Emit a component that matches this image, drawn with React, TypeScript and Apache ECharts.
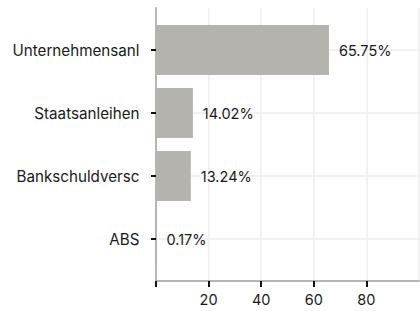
import React, { useEffect, useRef } from "react";
import * as echarts from "echarts";

const categories = ["Unternehmensanl", "Staatsanleihen", "Bankschuldversc", "ABS"];
const values = [65.75, 14.02, 13.24, 0.17];
const categoryPositions = [1, 2, 3, 4];
const xTickValues = [0, 20, 40, 60, 80];
const xLabelValues = [20, 40, 60, 80];

const FONT = "Inter, 'Noto Sans', sans-serif";
const TEXT = "#1a1a1a";
const GRIDLINE = "#ececec";
const AXISLINE = "#b5b5b5";

export default function App() {
  const ref = useRef<HTMLDivElement>(null);
  useEffect(() => {
    if (!ref.current) return;
    const chart = echarts.init(ref.current, null, { renderer: "svg" });
    chart.setOption({
      animation: false,
      backgroundColor: "#ffffff",
      grid: [
        { left: 156, right: 1, top: 8, bottom: 30, outerBoundsMode: "none" },
        { left: 156, right: 1, top: 18.5, bottom: 40.5, outerBoundsMode: "none" },
      ],
      xAxis: [
        {
          gridIndex: 0,
          type: "value",
          min: 0,
          max: 100,
          interval: 20,
          axisLine: { show: false },
          axisTick: { show: false },
          axisLabel: { show: false },
          splitLine: { show: true, lineStyle: { color: GRIDLINE, width: 1.5 } },
        },
        {
          gridIndex: 0,
          type: "value",
          position: "bottom",
          min: 0,
          max: 100,
          interval: 20,
          axisLine: { show: true, onZero: false, lineStyle: { color: AXISLINE, width: 2 } },
          axisTick: { show: true, length: 6, customValues: xTickValues, lineStyle: { color: "#111", width: 2 } },
          axisLabel: {
            show: true,
            customValues: xLabelValues,
            margin: 11,
            color: TEXT,
            fontSize: 14.5,
            fontFamily: FONT,
          },
          splitLine: { show: false },
        },
        {
          gridIndex: 1,
          type: "value",
          min: 0,
          max: 100,
          show: false,
          splitLine: { show: false },
        },
      ],
      yAxis: [
        {
          gridIndex: 0,
          type: "value",
          inverse: true,
          min: 1 / 3,
          max: 14 / 3,
          axisLine: { show: true, onZero: false, lineStyle: { color: AXISLINE, width: 2 } },
          axisTick: { show: true, length: 5, customValues: categoryPositions, lineStyle: { color: "#111", width: 2 } },
          axisLabel: {
            show: true,
            customValues: categoryPositions,
            formatter: (v: number) => categories[Math.round(v) - 1] ?? "",
            margin: 16.5,
            color: TEXT,
            fontSize: 15.2,
            fontFamily: FONT,
          },
          splitLine: { show: true, lineStyle: { color: GRIDLINE, width: 1.5 } },
        },
        {
          gridIndex: 1,
          type: "category",
          inverse: true,
          data: categories,
          show: false,
        },
      ],
      series: [
        {
          type: "bar",
          xAxisIndex: 2,
          yAxisIndex: 1,
          data: values,
          barWidth: 50,
          itemStyle: { color: "#b4b3ae" },
          label: {
            show: true,
            position: "right",
            distance: 10,
            formatter: (p: any) => p.value.toFixed(2) + "%",
            color: TEXT,
            fontSize: 14.5,
            fontFamily: FONT,
          },
        },
      ],
    });
    return () => chart.dispose();
  }, []);
  return (
    <div
      ref={ref}
      style={{ position: "absolute", left: 0, top: 0, width: 420, height: 311 }}
    />
  );
}
